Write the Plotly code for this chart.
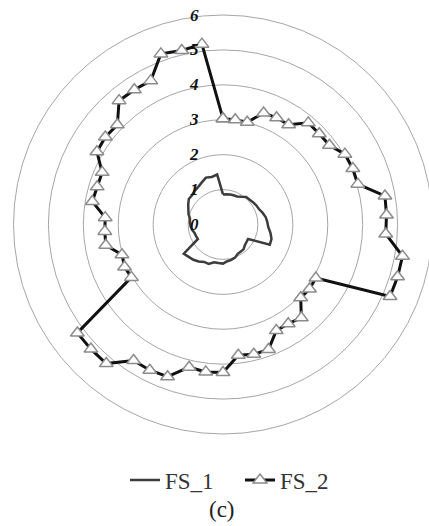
import plotly.graph_objects as go

categories = [str(i + 1) for i in range(54)]

fs1 = [0.86, 0.87, 0.88, 0.89, 0.90, 0.95, 1.03, 1.04, 1.07, 1.10, 1.12, 1.18, 1.24, 1.27, 1.30, 1.38, 1.45, 1.46,
       0.83, 0.84, 0.86, 0.92, 0.93, 0.94, 1.01, 1.04, 1.06, 1.12, 1.11, 1.11, 1.20, 1.20, 1.27, 1.32, 1.35, 1.40,
       0.83, 0.84, 0.85, 0.90, 0.93, 0.95, 0.96, 1.03, 1.08, 1.15, 1.22, 1.22, 1.26, 1.29, 1.35, 1.43, 1.40, 1.44]

fs2 = [3.03, 3.02, 3.01, 3.40, 3.42, 3.42, 3.80, 3.79, 3.80, 4.03, 4.05, 4.03, 4.71, 4.69, 4.67, 5.22, 5.22, 5.21,
       3.07, 3.09, 3.06, 3.49, 3.40, 3.40, 3.81, 3.82, 3.77, 4.24, 4.25, 4.20, 4.64, 4.67, 4.66, 5.20, 5.20, 5.20,
       3.03, 3.07, 3.02, 3.41, 3.39, 3.38, 3.80, 3.76, 3.77, 4.17, 4.20, 4.16, 4.63, 4.62, 4.61, 5.20, 5.12, 5.20]

radial_ticks = [0, 1, 2, 3, 4, 5, 6]
series_names = ["FS_1", "FS_2"]

theta = categories + categories[:1]

fig = go.Figure()
fig.add_trace(go.Scatterpolar(
    r=fs1 + fs1[:1], theta=theta, mode="lines", name=series_names[0],
    line=dict(color="#3c3c3c", width=2.5),
))
fig.add_trace(go.Scatterpolar(
    r=fs2 + fs2[:1], theta=theta, mode="lines+markers", name=series_names[1],
    line=dict(color="#111111", width=3),
    marker=dict(symbol="triangle-up", size=12, color="white",
                line=dict(color="#8c8c8c", width=1.5)),
))

# plot area spans x 13..433, y 14.5..434.5 -> polar centre (223, 224.5), radius 210
fig.update_layout(
    width=437, height=526,
    margin=dict(l=13, r=4, t=14.5, b=91.5, autoexpand=False),
    paper_bgcolor="white",
    font=dict(family="Liberation Serif", color="#222222"),
    polar=dict(
        bgcolor="white",
        domain=dict(x=[0, 1], y=[0, 1]),
        angularaxis=dict(
            type="category", categoryarray=categories,
            rotation=90, direction="clockwise",
            showticklabels=False, ticks="", showgrid=False,
            showline=True, linecolor="#a6a6a6", linewidth=1,
        ),
        radialaxis=dict(
            range=[0, 6], tickvals=radial_ticks, ticktext=[str(v) for v in radial_ticks],
            angle=90, side="counterclockwise", tickangle=90,
            showline=False, showgrid=True, gridcolor="#a6a6a6", gridwidth=1,
            ticks="outside", ticklen=18, tickcolor="rgba(0,0,0,0)",
            tickfont=dict(family="Liberation Serif", size=17, color="#111111",
                          weight="bold", style="italic"),
        ),
    ),
    legend=dict(
        orientation="h", x=(125 - 13) / 420, xanchor="left",
        yref="container", y=1 - 480 / 526, yanchor="middle",
        font=dict(family="Liberation Serif", size=23, color="#333333"),
        itemwidth=30, entrywidth=70, bgcolor="rgba(0,0,0,0)",
    ),
    annotations=[dict(
        text="(c)", x=(222 - 13) / 420, xref="paper", y=(434.5 - 510) / 420, yref="paper",
        xanchor="center", yanchor="middle", showarrow=False,
        font=dict(family="Liberation Serif", size=23, color="#222222"),
    )],
    showlegend=True,
)

fig.write_html(
    "out.html",
    config={"displayModeBar": False},
    post_script="document.body.style.margin='0px'; document.body.style.overflow='hidden';",
)
